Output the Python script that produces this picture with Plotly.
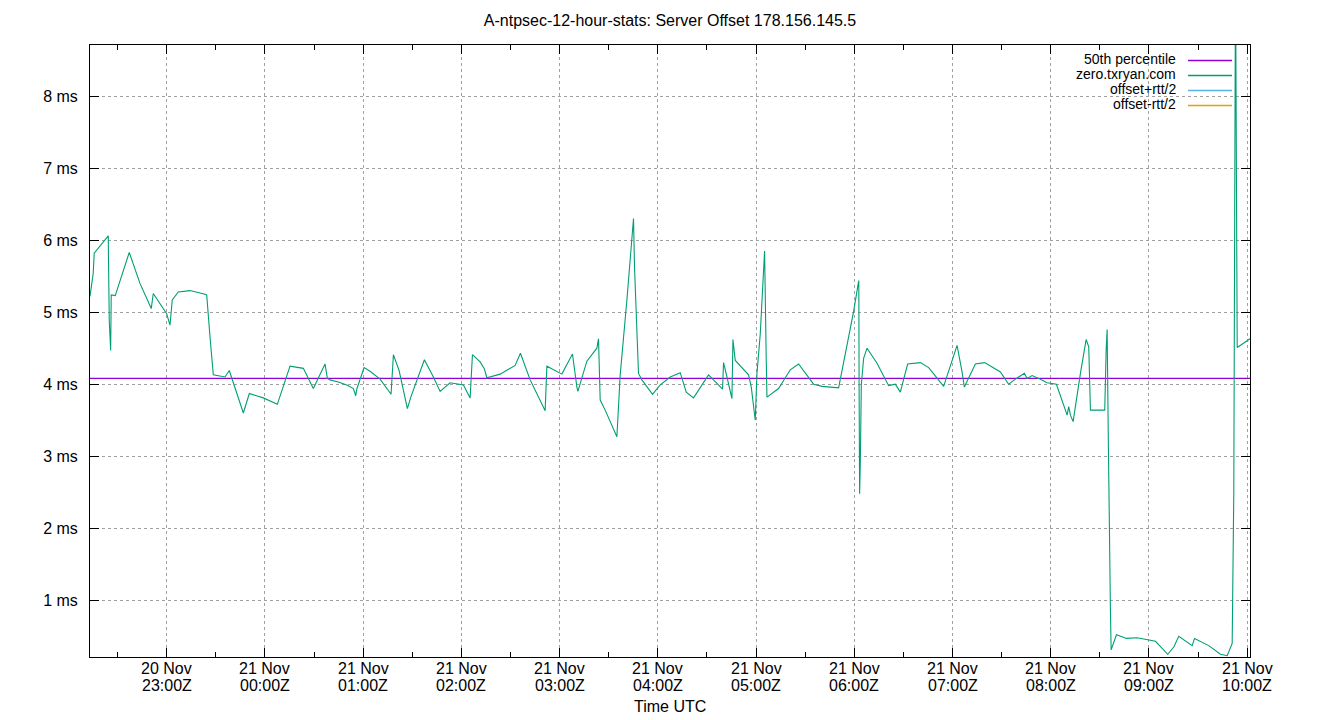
import plotly.graph_objects as go

title_text = "A-ntpsec-12-hour-stats: Server Offset 178.156.145.5"
x_title = "Time UTC"
series_names = ["50th percentile", "zero.txryan.com", "offset+rtt/2", "offset-rtt/2"]
series_colors = ["#9400d3", "#009e73", "#56b4e9", "#e69f00"]
percentile_50_ms = 4.08

times = [
    "2023-11-20 22:13:10", "2023-11-20 22:15:08", "2023-11-20 22:15:45", "2023-11-20 22:24:19",
    "2023-11-20 22:24:30", "2023-11-20 22:24:55", "2023-11-20 22:25:47", "2023-11-20 22:26:08",
    "2023-11-20 22:28:35", "2023-11-20 22:37:09", "2023-11-20 22:43:41", "2023-11-20 22:50:35",
    "2023-11-20 22:51:49", "2023-11-20 23:00:00", "2023-11-20 23:02:01", "2023-11-20 23:03:25",
    "2023-11-20 23:07:05", "2023-11-20 23:14:14", "2023-11-20 23:23:24", "2023-11-20 23:24:27",
    "2023-11-20 23:26:28", "2023-11-20 23:28:29", "2023-11-20 23:35:38", "2023-11-20 23:38:15",
    "2023-11-20 23:46:49", "2023-11-20 23:50:29", "2023-11-20 23:59:02", "2023-11-21 00:07:35",
    "2023-11-21 00:15:21", "2023-11-21 00:23:29", "2023-11-21 00:29:35", "2023-11-21 00:36:44",
    "2023-11-21 00:38:09", "2023-11-21 00:39:48", "2023-11-21 00:44:52", "2023-11-21 00:50:00",
    "2023-11-21 00:54:02", "2023-11-21 00:55:30", "2023-11-21 00:56:07", "2023-11-21 01:00:34",
    "2023-11-21 01:04:14", "2023-11-21 01:10:21", "2023-11-21 01:17:04", "2023-11-21 01:18:29",
    "2023-11-21 01:21:58", "2023-11-21 01:27:02", "2023-11-21 01:29:07", "2023-11-21 01:37:25",
    "2023-11-21 01:42:55", "2023-11-21 01:47:01", "2023-11-21 01:53:08", "2023-11-21 02:01:16",
    "2023-11-21 02:05:21", "2023-11-21 02:06:46", "2023-11-21 02:11:28", "2023-11-21 02:14:05",
    "2023-11-21 02:15:34", "2023-11-21 02:23:41", "2023-11-21 02:32:51", "2023-11-21 02:36:05",
    "2023-11-21 02:42:01", "2023-11-21 02:51:11", "2023-11-21 02:52:14", "2023-11-21 03:01:23",
    "2023-11-21 03:07:52", "2023-11-21 03:10:34", "2023-11-21 03:11:10", "2023-11-21 03:16:40",
    "2023-11-21 03:22:47", "2023-11-21 03:23:46", "2023-11-21 03:24:48", "2023-11-21 03:27:51",
    "2023-11-21 03:35:00", "2023-11-21 03:37:01", "2023-11-21 03:41:07", "2023-11-21 03:45:09",
    "2023-11-21 03:45:46", "2023-11-21 03:48:12", "2023-11-21 03:50:17", "2023-11-21 03:56:46",
    "2023-11-21 04:01:28", "2023-11-21 04:07:35", "2023-11-21 04:13:41", "2023-11-21 04:17:22",
    "2023-11-21 04:21:49", "2023-11-21 04:30:59", "2023-11-21 04:39:32", "2023-11-21 04:40:09",
    "2023-11-21 04:42:14", "2023-11-21 04:45:17", "2023-11-21 04:45:53", "2023-11-21 04:47:18",
    "2023-11-21 04:55:26", "2023-11-21 04:57:05", "2023-11-21 04:59:31", "2023-11-21 05:00:34",
    "2023-11-21 05:02:35", "2023-11-21 05:05:13", "2023-11-21 05:06:14", "2023-11-21 05:06:40",
    "2023-11-21 05:13:46", "2023-11-21 05:20:55", "2023-11-21 05:25:59", "2023-11-21 05:35:09",
    "2023-11-21 05:40:17", "2023-11-21 05:50:26", "2023-11-21 05:59:36", "2023-11-21 06:02:17",
    "2023-11-21 06:02:46", "2023-11-21 06:02:57", "2023-11-21 06:03:16", "2023-11-21 06:03:41",
    "2023-11-21 06:04:18", "2023-11-21 06:05:43", "2023-11-21 06:07:47", "2023-11-21 06:13:54",
    "2023-11-21 06:20:59", "2023-11-21 06:25:05", "2023-11-21 06:28:08", "2023-11-21 06:32:36",
    "2023-11-21 06:40:22", "2023-11-21 06:45:26", "2023-11-21 06:54:36", "2023-11-21 07:02:47",
    "2023-11-21 07:05:50", "2023-11-21 07:07:14", "2023-11-21 07:13:58", "2023-11-21 07:19:39",
    "2023-11-21 07:29:15", "2023-11-21 07:34:19", "2023-11-21 07:38:25", "2023-11-21 07:43:55",
    "2023-11-21 07:45:34", "2023-11-21 07:48:37", "2023-11-21 07:53:41", "2023-11-21 07:57:47",
    "2023-11-21 08:03:28", "2023-11-21 08:10:01", "2023-11-21 08:10:59", "2023-11-21 08:12:02",
    "2023-11-21 08:13:40", "2023-11-21 08:18:08", "2023-11-21 08:21:37", "2023-11-21 08:23:13",
    "2023-11-21 08:24:15", "2023-11-21 08:32:59", "2023-11-21 08:33:51", "2023-11-21 08:34:27",
    "2023-11-21 08:35:15", "2023-11-21 08:35:52", "2023-11-21 08:36:28", "2023-11-21 08:36:54",
    "2023-11-21 08:40:08", "2023-11-21 08:46:15", "2023-11-21 08:52:47", "2023-11-21 09:03:59",
    "2023-11-21 09:11:29", "2023-11-21 09:15:10", "2023-11-21 09:18:13", "2023-11-21 09:26:24",
    "2023-11-21 09:27:49", "2023-11-21 09:36:32", "2023-11-21 09:43:41", "2023-11-21 09:47:47",
    "2023-11-21 09:50:50", "2023-11-21 09:51:49", "2023-11-21 09:52:52", "2023-11-21 09:53:28",
    "2023-11-21 09:53:55", "2023-11-21 10:01:43",
]

offset_ms = [
    5.22, 5.54, 5.82, 6.06, 5.68, 4.89, 4.47, 5.24,
    5.23, 5.83, 5.40, 5.05, 5.26, 4.98, 4.82, 5.17,
    5.28, 5.30, 5.25, 5.24, 4.66, 4.13, 4.10, 4.19,
    3.60, 3.87, 3.81, 3.72, 4.25, 4.22, 3.94, 4.28,
    4.08, 4.06, 4.03, 3.99, 3.94, 3.84, 3.93, 4.23,
    4.18, 4.07, 3.86, 4.41, 4.19, 3.66, 3.82, 4.34,
    4.10, 3.90, 4.02, 3.99, 3.81, 4.41, 4.31, 4.21,
    4.09, 4.14, 4.26, 4.43, 4.06, 3.63, 4.25, 4.14,
    4.42, 3.96, 3.90, 4.32, 4.50, 4.63, 3.78, 3.64,
    3.27, 4.13, 5.17, 6.30, 5.63, 4.15, 4.06, 3.86,
    3.99, 4.10, 4.16, 3.89, 3.81, 4.13, 3.93, 4.30,
    4.10, 3.80, 4.62, 4.33, 4.13, 3.96, 3.50, 4.15,
    4.70, 5.85, 4.33, 3.82, 3.94, 4.20, 4.28, 4.00,
    3.97, 3.95, 5.01, 5.38, 5.44, 3.96, 2.48, 2.90,
    3.99, 4.36, 4.50, 4.29, 3.98, 4.00, 3.89, 4.28,
    4.30, 4.23, 3.97, 4.54, 4.17, 3.96, 4.28, 4.30,
    4.17, 4.00, 4.07, 4.15, 4.08, 4.12, 4.07, 4.02,
    4.00, 3.57, 3.69, 3.57, 3.48, 4.15, 4.62, 4.52,
    3.64, 3.64, 4.47, 4.76, 3.08, 1.97, 0.86, 0.31,
    0.52, 0.47, 0.48, 0.43, 0.25, 0.35, 0.50, 0.37,
    0.47, 0.37, 0.25, 0.23, 0.40, 2.50, 9.80, 6.65,
    4.51, 4.63,
]

tick_times = [
    "2023-11-20 23:00", "2023-11-21 00:00", "2023-11-21 01:00", "2023-11-21 02:00",
    "2023-11-21 03:00", "2023-11-21 04:00", "2023-11-21 05:00", "2023-11-21 06:00",
    "2023-11-21 07:00", "2023-11-21 08:00", "2023-11-21 09:00", "2023-11-21 10:00",
]
tick_dates = ["20 Nov"] + ["21 Nov"] * 11
tick_clock = ["23:00Z", "00:00Z", "01:00Z", "02:00Z", "03:00Z", "04:00Z",
              "05:00Z", "06:00Z", "07:00Z", "08:00Z", "09:00Z", "10:00Z"]
y_ticks = [1, 2, 3, 4, 5, 6, 7, 8]
y_labels = ["1 ms", "2 ms", "3 ms", "4 ms", "5 ms", "6 ms", "7 ms", "8 ms"]
y_range = [0.212, 8.71]

FONT = "Liberation Sans, Arial, sans-serif"
FS = 16
KEY_FS = 14
GRID = "#a0a0a0"

FIG_W, FIG_H = 1340, 720
# plot area in window pixels
L, R, T, B = 90, 1250, 45, 657
W, H = R - L, B - T


def px(x):
    return (x - L) / W


def py(y):
    return (B - y) / H


fig = go.Figure()

fig.add_trace(go.Scatter(
    x=[times[0], times[-1]], y=[percentile_50_ms, percentile_50_ms],
    mode="lines", name=series_names[0],
    line=dict(color=series_colors[0], width=1.3), hoverinfo="skip",
))
fig.add_trace(go.Scatter(
    x=times, y=offset_ms, mode="lines", name=series_names[1],
    line=dict(color=series_colors[1], width=1.1, simplify=False),
))
fig.add_trace(go.Scatter(x=[], y=[], mode="lines", name=series_names[2],
                         line=dict(color=series_colors[2], width=1)))
fig.add_trace(go.Scatter(x=[], y=[], mode="lines", name=series_names[3],
                         line=dict(color=series_colors[3], width=1)))

shapes = [dict(type="rect", xref="paper", yref="paper",
               x0=px(1045), x1=px(1240), y0=py(113), y1=py(47),
               fillcolor="white", line=dict(width=0), layer="between")]
annotations = []
row_y = [59, 74, 89, 104]
for name, color, ry in zip(series_names, series_colors, row_y):
    annotations.append(dict(
        text=name, xref="paper", yref="paper", x=px(1178), y=py(ry),
        xanchor="right", yanchor="middle", showarrow=False,
        font=dict(family=FONT, size=KEY_FS, color="black"),
    ))
    shapes.append(dict(type="line", xref="paper", yref="paper",
                       x0=px(1188), x1=px(1232), y0=py(ry + 1.5), y1=py(ry + 1.5),
                       line=dict(color=color, width=1.3), layer="above"))

# two-row time tick labels (gnuplot style, tight line spacing)
for t, d, c in zip(tick_times, tick_dates, tick_clock):
    annotations.append(dict(text=d, x=t, xref="x", yref="paper", y=py(668),
                            xanchor="center", yanchor="middle", showarrow=False,
                            font=dict(family=FONT, size=FS, color="black")))
    annotations.append(dict(text=c, x=t, xref="x", yref="paper", y=py(685),
                            xanchor="center", yanchor="middle", showarrow=False,
                            font=dict(family=FONT, size=FS, color="black")))

annotations.append(dict(
    text=x_title, xref="paper", yref="paper", x=0.5, y=py(706),
    xanchor="center", yanchor="middle", showarrow=False,
    font=dict(family=FONT, size=FS, color="black"),
))

fig.update_layout(
    width=FIG_W, height=FIG_H,
    margin=dict(l=L, r=FIG_W - R, t=T, b=FIG_H - B),
    paper_bgcolor="white", plot_bgcolor="white",
    showlegend=False,
    font=dict(family=FONT, size=FS, color="black"),
    title=dict(text=title_text, x=0.5, xanchor="center", y=1 - 20 / FIG_H,
               yanchor="middle", font=dict(family=FONT, size=FS, color="black")),
    shapes=shapes, annotations=annotations,
)

fig.update_xaxes(
    type="date", range=[times[0], times[-1]],
    tickvals=tick_times, showticklabels=False,
    ticks="inside", ticklen=9, tickcolor="black", tickwidth=1,
    showline=True, linecolor="black", linewidth=1, mirror="ticks",
    showgrid=True, gridcolor=GRID, griddash="3px,3px", gridwidth=1,
    zeroline=False,
    minor=dict(ticks="inside", ticklen=5, tickcolor="black", dtick=1800000,
               tick0="2023-11-20 22:30", showgrid=False),
)
fig.update_yaxes(
    range=y_range, tickvals=y_ticks, ticktext=y_labels,
    ticks="inside", ticklen=9, tickcolor="black", tickwidth=1,
    showline=True, linecolor="black", linewidth=1, mirror="ticks",
    showgrid=True, gridcolor=GRID, griddash="3px,3px", gridwidth=1,
    zeroline=False, tickfont=dict(family=FONT, size=FS, color="black"),
    ticklabelstandoff=8,
)

# remove the browser's default 8px page margin so the figure fills the window
fig.write_html("out.html", config={"displayModeBar": False},
               post_script="document.body.style.margin='0px';")
